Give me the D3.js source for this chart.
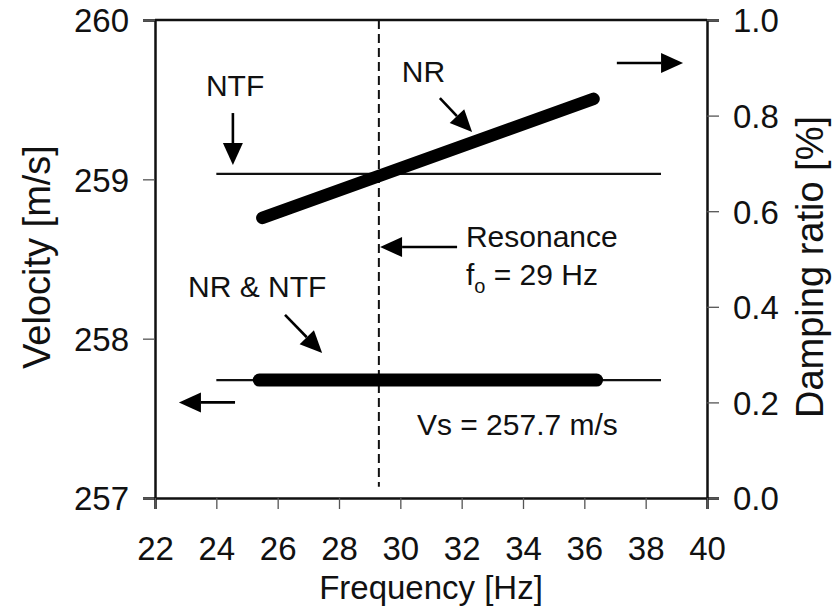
<!DOCTYPE html>
<html>
<head>
<meta charset="utf-8">
<script src="https://cdn.jsdelivr.net/npm/d3@7"></script>
<style>
  html, body { margin: 0; padding: 0; background: #fff; }
  svg { display: block; }
  text { font-family: "Liberation Sans", Arial, Helvetica, sans-serif; fill: #111; }
</style>
</head>
<body>
<svg id="chart" width="833" height="614"></svg>
<script>
// Frequency axis and tick values
const freqTicks = [22, 24, 26, 28, 30, 32, 34, 36, 38, 40];
const velocityTicks = [257, 258, 259, 260];
const dampingTicks = [0.0, 0.2, 0.4, 0.6, 0.8, 1.0];

// Damping ratio [%] vs frequency
const ntfDampFreq = [24.0, 38.5];
const ntfDamping = [0.678, 0.678];
const nrDampFreq = [25.5, 36.3];
const nrDamping = [0.586, 0.835];

// Shear-wave velocity [m/s] vs frequency
const ntfVelFreq = [24.0, 38.5];
const ntfVelocity = [257.74, 257.74];
const nrVelFreq = [25.4, 36.4];
const nrVelocity = [257.74, 257.74];

// Resonance frequency
const resonanceFreq = 29.3;

const W = 833, H = 614;
const margin = { top: 20, right: 126, bottom: 116, left: 155 };
const svg = d3.select("#chart");

const x = d3.scaleLinear().domain([22, 40]).range([margin.left, W - margin.right]);
const yV = d3.scaleLinear().domain([257, 260]).range([H - margin.bottom, margin.top]);
const yD = d3.scaleLinear().domain([0, 1]).range([H - margin.bottom, margin.top]);

const tickFont = 33;

// Axes
const gLeft = svg.append("g")
  .attr("transform", `translate(${margin.left},0)`)
  .call(d3.axisLeft(yV).tickValues(velocityTicks).tickFormat(d3.format("d")).tickSize(12).tickPadding(14));
const gRight = svg.append("g")
  .attr("transform", `translate(${W - margin.right},0)`)
  .call(d3.axisRight(yD).tickValues(dampingTicks).tickFormat(d3.format(".1f")).tickSize(12).tickPadding(14));
const gBottom = svg.append("g")
  .attr("transform", `translate(0,${H - margin.bottom})`)
  .call(d3.axisBottom(x).tickValues(freqTicks).tickFormat(d3.format("d")).tickSize(11).tickPadding(27));

[gLeft, gRight, gBottom].forEach(g => {
  g.select(".domain").attr("stroke", "#111").attr("stroke-width", 2.5);
  g.selectAll(".tick line").attr("stroke", "#555").attr("stroke-width", 1.3);
  g.selectAll(".tick text")
    .style("font-family", "'Liberation Sans', Arial, sans-serif")
    .style("font-size", tickFont + "px")
    .attr("fill", "#111");
});
gLeft.selectAll(".tick text").attr("dy", "0.36em");
gRight.selectAll(".tick text").attr("dy", "0.36em");
gBottom.selectAll(".tick text").attr("dy", "0.74em");

// Top frame line
svg.append("line")
  .attr("x1", x(22)).attr("x2", x(40))
  .attr("y1", yV(260)).attr("y2", yV(260))
  .attr("stroke", "#111").attr("stroke-width", 2.5);

// Axis titles
svg.append("text")
  .attr("transform", `translate(50,257) rotate(-90)`)
  .attr("text-anchor", "middle")
  .style("font-size", "38px")
  .text("Velocity [m/s]");
svg.append("text")
  .attr("transform", `translate(823,267) rotate(-90)`)
  .attr("text-anchor", "middle")
  .style("font-size", "38px")
  .text("Damping ratio [%]");
svg.append("text")
  .attr("x", (x(22) + x(40)) / 2).attr("y", 599)
  .attr("text-anchor", "middle")
  .style("font-size", "33px")
  .text("Frequency [Hz]");

// Resonance marker
svg.append("line")
  .attr("x1", x(resonanceFreq)).attr("x2", x(resonanceFreq))
  .attr("y1", yV(260)).attr("y2", yV(257.07))
  .attr("stroke", "#111").attr("stroke-width", 2)
  .attr("stroke-dasharray", "9,5");

const line = (fx, fy) => d3.line().x(d => x(d[0])).y(d => fy(d[1]));
const zip = (a, b) => a.map((v, i) => [v, b[i]]);

// Damping ratio curves
svg.append("path").datum(zip(ntfDampFreq, ntfDamping))
  .attr("d", line(x, yD)).attr("fill", "none")
  .attr("stroke", "#111").attr("stroke-width", 2.2);
svg.append("path").datum(zip(nrDampFreq, nrDamping))
  .attr("d", line(x, yD)).attr("fill", "none")
  .attr("stroke", "#000").attr("stroke-width", 12.5).attr("stroke-linecap", "round");

// Velocity curves
svg.append("path").datum(zip(ntfVelFreq, ntfVelocity))
  .attr("d", line(x, yV)).attr("fill", "none")
  .attr("stroke", "#111").attr("stroke-width", 2.2);
svg.append("path").datum(zip(nrVelFreq, nrVelocity))
  .attr("d", line(x, yV)).attr("fill", "none")
  .attr("stroke", "#000").attr("stroke-width", 13).attr("stroke-linecap", "round");

// Arrow helper: shaft plus filled triangular head, ends given in (frequency, velocity)
function arrow(f0, v0, f1, v1) {
  const x0 = x(f0), y0 = yV(v0), x1 = x(f1), y1 = yV(v1);
  const ang = Math.atan2(y1 - y0, x1 - x0);
  const len = 22, half = 10;
  const bx = x1 - len * Math.cos(ang), by = y1 - len * Math.sin(ang);
  svg.append("line")
    .attr("x1", x0).attr("y1", y0).attr("x2", bx).attr("y2", by)
    .attr("stroke", "#000").attr("stroke-width", 2.6);
  const px = -Math.sin(ang) * half, py = Math.cos(ang) * half;
  svg.append("path")
    .attr("d", `M${x1},${y1}L${bx + px},${by + py}L${bx - px},${by - py}Z`)
    .attr("fill", "#000");
}

const annFont = "30px";
function label(f, v, txt) {
  return svg.append("text").attr("x", x(f)).attr("y", yV(v)).style("font-size", annFont).text(txt);
}

// NTF damping
label(23.66, 259.523, "NTF");
arrow(24.54, 259.416, 24.54, 259.09);

// NR damping
label(30.05, 259.61, "NR");
arrow(31.29, 259.51, 32.34, 259.297);

// Resonance
arrow(31.85, 258.575, resonanceFreq + 0.04, 258.575);
label(32.14, 258.575, "Resonance");
const fo = label(32.14, 258.337, "f");
fo.append("tspan").attr("dy", 8).style("font-size", "20px").text("o");
fo.append("tspan").attr("dy", -8).text(" = " + d3.format(".0f")(resonanceFreq) + " Hz");

// Velocity
label(23.08, 258.26, "NR & NTF");
arrow(26.24, 258.149, 27.45, 257.91);
label(30.54, 257.395, "Vs = " + d3.format(".1f")(nrVelocity[0]) + " m/s");

// Axis pointers
arrow(37.06, 259.73, 39.22, 259.73);
arrow(24.61, 257.6, 22.78, 257.6);
</script>
</body>
</html>
